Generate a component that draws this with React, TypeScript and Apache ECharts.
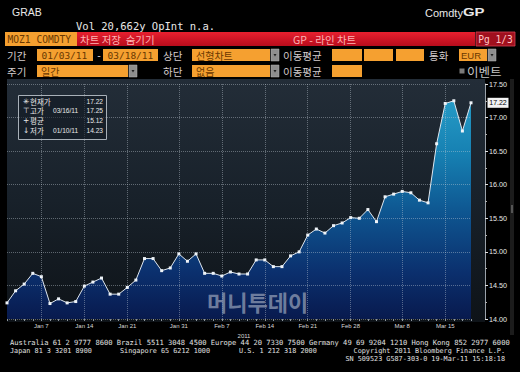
import React, { useEffect, useRef } from "react";
import * as echarts from "echarts";

// ---- data ----
const dates = [
  "01/03", "01/04", "01/05", "01/06", "01/07", "01/10", "01/11", "01/12", "01/13", "01/14",
  "01/17", "01/18", "01/19", "01/20", "01/21", "01/24", "01/25", "01/26", "01/27", "01/28",
  "01/31", "02/01", "02/02", "02/03", "02/04", "02/07", "02/08", "02/09", "02/10", "02/11",
  "02/14", "02/15", "02/16", "02/17", "02/18", "02/21", "02/22", "02/23", "02/24", "02/25",
  "02/28", "03/01", "03/02", "03/03", "03/04", "03/07", "03/08", "03/09", "03/10", "03/11",
  "03/14", "03/15", "03/16", "03/17", "03/18",
];
const prices = [
  14.24, 14.42, 14.52, 14.68, 14.63, 14.23, 14.3, 14.24, 14.26, 14.49,
  14.55, 14.61, 14.37, 14.37, 14.47, 14.58, 14.9, 14.9, 14.72, 14.76,
  14.97, 14.86, 14.97, 14.68, 14.68, 14.64, 14.7, 14.67, 14.67, 14.88,
  14.88, 14.78, 14.78, 14.94, 15.0, 15.25, 15.34, 15.28, 15.39, 15.43,
  15.51, 15.5, 15.63, 15.45, 15.82, 15.86, 15.9, 15.88, 15.77, 15.73,
  16.61, 17.21, 17.25, 16.8, 17.22,
];
const tickDates = ["01/07", "01/14", "01/21", "01/31", "02/07", "02/14", "02/21", "02/28", "03/08", "03/15"];
const tickLabels = ["Jan 7", "Jan 14", "Jan 21", "Jan 31", "Feb 7", "Feb 14", "Feb 21", "Feb 28", "Mar 8", "Mar 15"];
const yMin = 14;
const yMax = 17.5;
const yStep = 0.5;

const summarySymbols = ["✳", "⊤", "+", "↓"];
const summaryLabels = ["현재가", "고가", "평균", "저가"];
const summaryDates = ["", "03/16/11", "", "01/10/11"];
const summaryValues = ["17.22", "17.25", "15.12", "14.23"];

const footerLine1 = "Australia 61 2 9777 8600 Brazil 5511 3048 4500 Europe 44 20 7330 7500 Germany 49 69 9204 1210 Hong Kong 852 2977 6000";

// ---- fonts ----
const MONO = '"DejaVu Sans Mono", monospace';
const KR = '"Noto Sans CJK KR", sans-serif';
const SANS = '"Liberation Sans", "Noto Sans CJK KR", sans-serif';
const LEG = '"DejaVu Sans", "Noto Sans CJK KR", sans-serif';

const ORANGE = "#f5a030";
const DARK = "#6a3800";
const LIGHT = "#d4cccc";

function txt(x: number, y: number, text: string, o: any = {}) {
  const align = o.align || "left";
  const va = o.va || "middle";
  return {
    type: "text",
    x,
    y,
    z: o.z ?? 20,
    silent: true,
    scaleX: o.scaleX ?? 1,
    style: {
      text,
      fill: o.fill || "#e8e8e8",
      fontSize: o.size || 10,
      fontFamily: o.font || SANS,
      fontWeight: o.weight || "normal",
      opacity: o.opacity ?? 1,
      align,
      verticalAlign: va,
      textAlign: align,
      textVerticalAlign: va,
    },
  };
}

function rect(x: number, y: number, w: number, h: number, fill: any, o: any = {}) {
  return {
    type: "rect",
    z: o.z ?? 10,
    silent: true,
    shape: { x, y, width: w, height: h },
    style: { fill, stroke: o.stroke || null, lineWidth: o.lw || 0 },
  };
}

function button(x: number, y: number) {
  return [
    rect(x, y, 8, 12, "#8e8e8e", { stroke: "#b0b0b0", lw: 0.5 }),
    {
      type: "polygon",
      z: 21,
      silent: true,
      shape: { points: [[x + 2.5, y + 5], [x + 5.5, y + 5], [x + 4, y + 7.5]] },
      style: { fill: "#222" },
    },
  ];
}

export default function App() {
  const ref = useRef<HTMLDivElement>(null);

  useEffect(() => {
    document.body.style.margin = "0";
    document.body.style.background = "#000";
    const chart = echarts.init(ref.current!, null, { renderer: "svg" });

    const last = prices.length - 1;
    const isTick = (_i: number, v: string) => tickDates.indexOf(v) >= 0;

    const graphics: any[] = [];
    // plot background
    graphics.push(
      rect(7, 79, 478, 243, {
        type: "linear", x: 0, y: 0, x2: 0, y2: 1,
        colorStops: [
          { offset: 0, color: "#232d38" },
          { offset: 0.5, color: "#18212a" },
          { offset: 1, color: "#0e1318" },
        ],
      }, { z: -1 })
    );
    // scroll bar
    graphics.push(rect(510, 79, 4, 256, "#1c1c1c", { z: 5 }));
    graphics.push(rect(511, 205, 2, 8, "#555", { z: 6 }));

    // top texts
    graphics.push(txt(12, 12, "GRAB", { size: 10.5, font: SANS }));
    graphics.push(txt(76, 25.5, "Vol 20,662y OpInt n.a.", { size: 10.5, font: MONO }));
    graphics.push(txt(425, 12.5, "Comdty", { size: 11, font: SANS }));
    graphics.push(txt(463, 12.5, "GP", { size: 11.5, font: SANS, weight: "bold", scaleX: 1.3 }));

    // red bar
    graphics.push(
      rect(77, 32, 398, 14, {
        type: "linear", x: 0, y: 0, x2: 0, y2: 1,
        colorStops: [
          { offset: 0, color: "#e8202f" },
          { offset: 1, color: "#b80c1c" },
        ],
      })
    );
    graphics.push(rect(5, 32, 72, 14, ORANGE));
    graphics.push(txt(7.5, 39.5, "MOZ1 COMDTY", { size: 9.6, font: MONO, fill: DARK }));
    graphics.push(txt(80, 39, "차트 저장  숨기기", { size: 10.5, font: KR, fill: "#ffb4b4" }));
    graphics.push(txt(293, 39, "GP - 라인 차트", { size: 10.5, font: KR, fill: "#ffb4b4" }));
    graphics.push(rect(476, 32, 39, 14, "#a0101e", { stroke: "#d84050", lw: 0.8 }));
    graphics.push(txt(495.5, 39.5, "Pg 1/3", { size: 9.6, font: MONO, fill: "#ffc4c4", align: "center" }));

    // row 1
    const r1 = 49;
    graphics.push(txt(7, r1 + 6, "기간", { size: 10.5, font: KR, fill: LIGHT }));
    graphics.push(rect(37, r1, 56, 12, ORANGE));
    graphics.push(txt(41.5, r1 + 6.5, "01/03/11", { size: 9.5, font: MONO, fill: DARK }));
    graphics.push(txt(96, r1 + 6, "-", { size: 10, font: MONO, fill: LIGHT }));
    graphics.push(rect(103, r1, 55, 12, ORANGE));
    graphics.push(txt(107.5, r1 + 6.5, "03/18/11", { size: 9.5, font: MONO, fill: DARK }));
    graphics.push(txt(163, r1 + 6, "상단", { size: 10.5, font: KR, fill: LIGHT }));
    graphics.push(rect(192, r1, 78, 12, ORANGE));
    graphics.push(txt(196, r1 + 6, "선형차트", { size: 10, font: KR, fill: DARK }));
    graphics.push(...button(271, r1));
    graphics.push(txt(283, r1 + 6, "이동평균", { size: 10.5, font: KR, fill: LIGHT }));
    graphics.push(rect(332, r1, 30, 12, ORANGE));
    graphics.push(rect(364, r1, 29, 12, ORANGE));
    graphics.push(rect(396, r1, 28, 12, ORANGE));
    graphics.push(txt(429, r1 + 6, "통화", { size: 10.5, font: KR, fill: LIGHT }));
    graphics.push(rect(459, r1, 28, 12, ORANGE));
    graphics.push(txt(461, r1 + 6.5, "EUR", { size: 9.5, font: SANS, fill: DARK }));
    graphics.push(...button(488, r1));

    // row 2
    const r2 = 65;
    graphics.push(txt(7, r2 + 6, "주기", { size: 10.5, font: KR, fill: LIGHT }));
    graphics.push(rect(37, r2, 91, 12, ORANGE));
    graphics.push(txt(41, r2 + 6, "일간", { size: 10, font: KR, fill: DARK }));
    graphics.push(...button(129, r2));
    graphics.push(txt(163, r2 + 6, "하단", { size: 10.5, font: KR, fill: LIGHT }));
    graphics.push(rect(192, r2, 78, 12, ORANGE));
    graphics.push(txt(196, r2 + 6, "없음", { size: 10, font: KR, fill: DARK }));
    graphics.push(...button(271, r2));
    graphics.push(txt(283, r2 + 6, "이동평균", { size: 10.5, font: KR, fill: LIGHT }));
    graphics.push(rect(332, r2, 30, 12, ORANGE));
    graphics.push(rect(459.5, r2 + 3.5, 5, 5, "#7a7a7a"));
    graphics.push(txt(467, r2 + 6, "이벤트", { size: 12.5, font: KR, fill: "#c4c4c4" }));

    // summary box
    graphics.push(rect(18.5, 95.5, 88, 44, "rgba(16,24,32,0.55)", { stroke: "#a8b0b8", lw: 1, z: 30 }));
    const rowsY = [101, 110.5, 120.5, 130.5];
    summaryLabels.forEach((lab, i) => {
      const y = rowsY[i];
      graphics.push(txt(23, y, summarySymbols[i], { size: 7.5, font: LEG, fill: "#e8e8e8", z: 31 }));
      graphics.push(txt(30, y, lab, { size: 7.5, font: KR, fill: "#e8e8e8", z: 31 }));
      if (summaryDates[i]) graphics.push(txt(53, y, summaryDates[i], { size: 6.6, font: SANS, fill: "#e8e8e8", z: 31 }));
      graphics.push(txt(103, y, summaryValues[i], { size: 6.6, font: SANS, fill: "#e8e8e8", align: "right", z: 31 }));
    });

    // watermark
    graphics.push(txt(207, 301, "머니투데이", { size: 22, font: KR, weight: "bold", fill: "#8a96b0", opacity: 0.8, z: 40 }));

    // x-axis year
    graphics.push(txt(244, 335.5, "2011", { size: 6, font: SANS, fill: "#d8d8d8", align: "center" }));

    // footer
    const FS = 6.8;
    graphics.push(txt(10, 342, footerLine1, { size: 7.1, font: MONO, fill: "#e0e0e0" }));
    graphics.push(txt(10, 350.5, "Japan 81 3 3201 8900", { size: FS, font: MONO, fill: "#e0e0e0" }));
    graphics.push(txt(120, 350.5, "Singapore 65 6212 1000", { size: FS, font: MONO, fill: "#e0e0e0" }));
    graphics.push(txt(239, 350.5, "U.S. 1 212 318 2000", { size: FS, font: MONO, fill: "#e0e0e0" }));
    graphics.push(txt(505, 350.5, "Copyright 2011 Bloomberg Finance L.P.", { size: FS, font: MONO, fill: "#e0e0e0", align: "right" }));
    graphics.push(txt(505, 359, "SN 509523 G587-303-0 19-Mar-11 15:18:18", { size: FS, font: MONO, fill: "#e0e0e0", align: "right" }));

    const gridLine = { type: "dotted", color: "rgba(195,205,215,0.42)", width: 1 };

    const option: any = {
      animation: false,
      backgroundColor: "#000",
      grid: { left: 7, right: 49, top: 84, bottom: 53, containLabel: false },
      xAxis: {
        type: "category",
        data: dates,
        boundaryGap: false,
        z: 3,
        axisLine: { show: false },
        axisTick: { show: true, interval: 0, length: 2, lineStyle: { color: "#8c949c" } },
        axisLabel: {
          interval: isTick,
          formatter: (v: string) => tickLabels[tickDates.indexOf(v)] ?? "",
          fontSize: 6,
          fontFamily: SANS,
          color: "#d8d8d8",
          margin: 4,
        },
        splitLine: { show: true, interval: isTick, lineStyle: gridLine },
      },
      yAxis: {
        type: "value",
        position: "right",
        offset: 14,
        min: yMin,
        max: yMax,
        interval: yStep,
        z: 3,
        axisLine: { show: true, lineStyle: { color: "#9aa2aa", width: 1 } },
        axisTick: { show: true, length: 3, lineStyle: { color: "#e0e0e0" } },
        minorTick: { show: true, splitNumber: 2, length: 2, lineStyle: { color: "#b0b0b0" } },
        axisLabel: {
          formatter: (v: number) => v.toFixed(2),
          fontSize: 7.2,
          fontFamily: SANS,
          color: "#e8e8e8",
          margin: 4,
        },
        splitLine: { show: true, lineStyle: gridLine },
      },
      graphic: { elements: graphics },
      series: [
        {
          type: "line",
          data: prices,
          symbol: "none",
          silent: true,
          z: 1,
          lineStyle: { width: 0 },
          areaStyle: {
            opacity: 1,
            color: new echarts.graphic.LinearGradient(0, 84, 0, 319, [
              { offset: 0, color: "#2aa3cc" },
              { offset: 0.3, color: "#1680b2" },
              { offset: 0.55, color: "#0e5590" },
              { offset: 0.8, color: "#0b306e" },
              { offset: 1, color: "#081a4e" },
            ], true),
          },
        },
        {
          type: "line",
          data: prices,
          symbol: "rect",
          symbolSize: 3,
          silent: true,
          z: 5,
          itemStyle: { color: "#eef3f8" },
          lineStyle: { color: "#dfe7ef", width: 1 },
          markPoint: {
            silent: true,
            symbol: "rect",
            symbolSize: [21, 10],
            symbolOffset: [27, 0],
            itemStyle: { color: "#f2f2f2" },
            label: {
              show: true,
              formatter: () => prices[last].toFixed(2),
              color: "#000",
              fontSize: 7,
              fontFamily: SANS,
            },
            data: [{ coord: [dates[last], prices[last]] }],
          },
        },
      ],
    };

    chart.setOption(option);
    return () => chart.dispose();
  }, []);

  return <div ref={ref} style={{ width: 520, height: 372 }} />;
}
